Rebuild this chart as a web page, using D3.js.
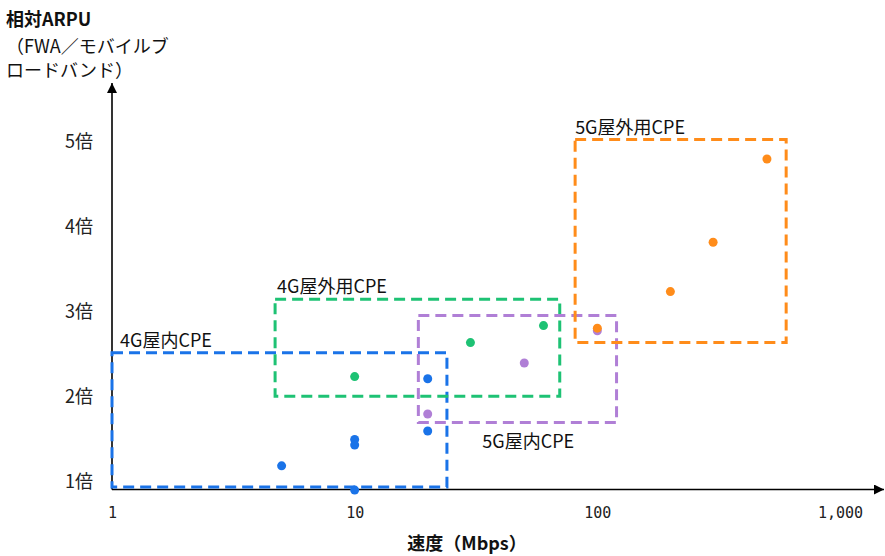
<!DOCTYPE html>
<html>
<head>
<meta charset="utf-8">
<script src="https://cdn.jsdelivr.net/npm/d3@7/dist/d3.min.js"></script>
<style>
  html, body { margin: 0; padding: 0; background: #fff; }
  svg { display: block; font-family: "Noto Sans CJK JP", "Noto Sans", sans-serif; }
</style>
</head>
<body>
<svg id="chart" width="885" height="556"></svg>
<script>
// Speed (Mbps) vs relative ARPU, grouped by CPE type
const groups = ["4G屋内CPE", "4G屋外用CPE", "5G屋内CPE", "5G屋外用CPE"];
const colors = ["#1a73e8", "#1ec274", "#b07fd6", "#ff8c1a"];

// point values per group: [speed Mbps, ARPU multiple]
const speeds4gIndoor  = [5, 10, 10, 10, 20, 20];
const arpu4gIndoor    = [1.19, 1.50, 1.435, 0.905, 2.215, 1.60];
const speeds4gOutdoor = [10, 30, 60];
const arpu4gOutdoor   = [2.24, 2.64, 2.84];
const speeds5gIndoor  = [20, 50, 100];
const arpu5gIndoor    = [1.80, 2.40, 2.78];
const speeds5gOutdoor = [100, 200, 300, 500];
const arpu5gOutdoor   = [2.81, 3.24, 3.82, 4.80];

// range boxes per group: speed [min, max], ARPU [min, max]
const boxSpeedMin = [1, 4.7, 18.3, 81];
const boxSpeedMax = [24, 70, 120, 600];
const boxArpuMin  = [0.94, 2.01, 1.70, 2.64];
const boxArpuMax  = [2.52, 3.15, 2.96, 5.03];

const xTicks = [1, 10, 100, 1000];
const yTicks = [1, 2, 3, 4, 5];

const svg = d3.select("#chart");
const x = d3.scaleLog().domain([1, 1000]).range([112, 840]);
const y = d3.scaleLinear().domain([1, 5]).range([482, 142]);
const axisY = 489.5, axisX = 112;

// arrow marker for axes
svg.append("defs").append("marker")
  .attr("id", "arrow").attr("viewBox", "0 0 10 10")
  .attr("refX", 10).attr("refY", 5)
  .attr("markerWidth", 10).attr("markerHeight", 10)
  .attr("markerUnits", "userSpaceOnUse")
  .attr("orient", "auto")
  .append("path").attr("d", "M0,0 L10,5 L0,10 z").attr("fill", "#000");

// axes lines with arrows
svg.append("line").attr("x1", axisX).attr("y1", axisY).attr("x2", 884).attr("y2", axisY)
  .attr("stroke", "#000").attr("stroke-width", 1.6).attr("marker-end", "url(#arrow)");
svg.append("line").attr("x1", axisX).attr("y1", axisY).attr("x2", axisX).attr("y2", 83)
  .attr("stroke", "#000").attr("stroke-width", 1.6).attr("marker-end", "url(#arrow)");

// x tick labels
const xAxis = svg.append("g").attr("transform", `translate(0,${axisY})`)
  .call(d3.axisBottom(x).tickValues(xTicks).tickSize(0).tickPadding(18).tickFormat(d3.format(",")));
xAxis.select(".domain").remove();
xAxis.selectAll("text").attr("font-family", "DejaVu Sans Mono").attr("font-size", 15).attr("fill", "#222");

// y tick labels
const yAxis = svg.append("g").attr("transform", `translate(93,0)`)
  .call(d3.axisLeft(y).tickValues(yTicks).tickSize(0).tickPadding(0).tickFormat(d => d + "倍"));
yAxis.select(".domain").remove();
yAxis.selectAll("text").attr("font-family", "Noto Sans CJK JP").attr("font-size", 18).attr("fill", "#222");

// axis titles
svg.append("text").attr("x", 467).attr("y", 550).attr("text-anchor", "middle")
  .attr("font-size", 18).attr("font-weight", "bold").attr("fill", "#111").text("速度（Mbps）");
const yt = svg.append("text").attr("font-size", 18).attr("fill", "#111");
yt.append("tspan").attr("x", 6).attr("y", 26).attr("font-weight", "bold").text("相対ARPU");
yt.append("tspan").attr("x", 6).attr("y", 53).text("（FWA／モバイルブ");
yt.append("tspan").attr("x", 6).attr("y", 77).text("ロードバンド）");

// range boxes
const boxes = groups.map((g, i) => ({
  name: g, color: colors[i],
  x0: boxSpeedMin[i], x1: boxSpeedMax[i], y0: boxArpuMin[i], y1: boxArpuMax[i]
}));
svg.append("g").selectAll("rect").data(boxes).join("rect")
  .attr("x", d => x(d.x0)).attr("y", d => y(d.y1))
  .attr("width", d => x(d.x1) - x(d.x0)).attr("height", d => y(d.y0) - y(d.y1))
  .attr("fill", "none").attr("stroke", d => d.color)
  .attr("stroke-width", 3).attr("stroke-dasharray", "11 6");

// group labels
const labelPos = [
  { dx: 8, dy: -6, top: true },
  { dx: 2, dy: -6, top: true },
  { dx: 64, dy: 25, top: false },
  { dx: 0, dy: -5, top: true }
];
svg.append("g").selectAll("text").data(boxes).join("text")
  .attr("x", (d, i) => x(d.x0) + labelPos[i].dx)
  .attr("y", (d, i) => (labelPos[i].top ? y(d.y1) : y(d.y0)) + labelPos[i].dy)
  .attr("font-size", 18).attr("fill", "#111").text(d => d.name);

// points
const series = [
  [speeds4gIndoor, arpu4gIndoor],
  [speeds4gOutdoor, arpu4gOutdoor],
  [speeds5gIndoor, arpu5gIndoor],
  [speeds5gOutdoor, arpu5gOutdoor]
];
series.forEach(([sx, sy], i) => {
  svg.append("g").selectAll("circle").data(sx.map((v, j) => [v, sy[j]])).join("circle")
    .attr("cx", d => x(d[0])).attr("cy", d => y(d[1])).attr("r", 4.5)
    .attr("fill", colors[i]);
});
</script>
</body>
</html>
